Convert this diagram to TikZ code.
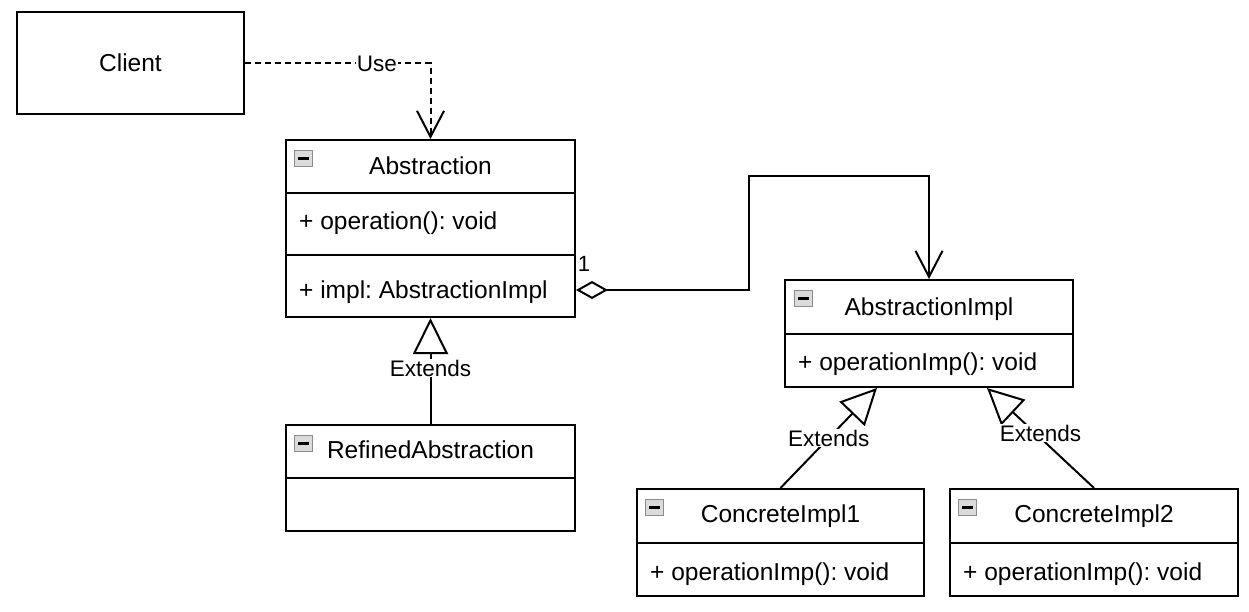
\documentclass[tikz,border=0pt]{standalone}
\usepackage{fontspec}
\setmainfont{Liberation Sans}
\usetikzlibrary{arrows.meta}
\frenchspacing
\begin{document}
\begin{tikzpicture}[x=1pt,y=-1pt,
  box/.style={draw=black, line width=2pt, fill=white, inner sep=0pt},
  ttl/.style={font=\fontsize{24.5}{29}\selectfont, text height=17.6pt, text depth=0pt, inner sep=0pt},
  mem/.style={ttl, anchor=west},
  lbl/.style={font=\fontsize{22.5}{27}\selectfont, fill=white, inner sep=1pt, text height=16.2pt, text depth=0pt},
  conn/.style={line width=2pt, draw=black},
  divider/.style={line width=2pt},
  usetip/.style={-{Straight Barb[length=26pt,width=27pt]}},
  exttip/.style={-{Triangle[open,length=36pt,width=35pt]}},
  minusicon/.pic={
    \draw[draw=black!45, fill=black!14, line width=1pt] (-9,-8) rectangle (9,8);
    \fill[black] (-5.5,-1.5) rectangle (5.5,1.5);
  }]
\useasboundingbox (0,0) rectangle (1249,611);
\fill[white] (0,0) rectangle (1249,611);

% Client
\node[box, ttl, draw, fill=white, line width=2pt, minimum width=227pt, minimum height=102pt] (client) at (130.5,63) {Client};

% Abstraction
\node[box, minimum width=289pt, minimum height=177pt] (abs) at (430.5,228.5) {};
\draw[divider] (abs.west |- 0,193) -- (abs.east |- 0,193);
\draw[divider] (abs.west |- 0,255) -- (abs.east |- 0,255);
\node[ttl] (abst) at (430.5,166) {Abstraction};
\node[mem] (absm1) at (299,221) {+ operation(): void};
\node[mem] (absm2) at (299,290) {+ impl: AbstractionImpl};
\pic at (303,158) {minusicon};

% RefinedAbstraction
\node[box, minimum width=289pt, minimum height=106pt] (refined) at (430.5,478) {};
\draw[divider] (refined.west |- 0,478) -- (refined.east |- 0,478);
\node[ttl] (refinedt) at (430.5,450) {RefinedAbstraction};
\pic at (303,443) {minusicon};

% AbstractionImpl
\node[box, minimum width=288pt, minimum height=107pt] (impl) at (929,333.5) {};
\draw[divider] (impl.west |- 0,334) -- (impl.east |- 0,334);
\node[ttl] (implt) at (929,307) {AbstractionImpl};
\node[mem] (implm) at (798,362) {+ operationImp(): void};
\pic at (803,298) {minusicon};

% ConcreteImpl1
\node[box, minimum width=287pt, minimum height=107pt] (c1) at (780.5,542.5) {};
\draw[divider] (c1.west |- 0,543) -- (c1.east |- 0,543);
\node[ttl] (c1t) at (780.5,514) {ConcreteImpl1};
\node[mem] (c1m) at (650,572) {+ operationImp(): void};
\pic at (654,507) {minusicon};

% ConcreteImpl2
\node[box, minimum width=288pt, minimum height=107pt] (c2) at (1094,542.5) {};
\draw[divider] (c2.west |- 0,543) -- (c2.east |- 0,543);
\node[ttl] (c2t) at (1094,514) {ConcreteImpl2};
\node[mem] (c2m) at (963,572) {+ operationImp(): void};
\pic at (967,507) {minusicon};

% Use dependency
\draw[conn, dash pattern=on 6pt off 4pt, usetip] (client.east) -| (abs.north);
\node[lbl] (uselbl) at (377,63) {Use};

% Aggregation
\coordinate (aggs) at (576,290);
\coordinate (bend1) at (749,290);
\draw[conn, {Diamond[open,length=32pt,width=18pt]}-{Straight Barb[length=26pt,width=27pt]}]
  (aggs) -- (bend1) |- ([yshift=103pt]impl.north) -- (impl.north);
\node[font=\fontsize{22}{26}\selectfont, inner sep=0pt, text height=15.8pt, text depth=0pt] (one) at (584,264) {1};

% Generalizations
\draw[conn, exttip] (refined.north) -- node[lbl, yshift=3pt] (ext0) {Extends} (abs.south);
\draw[conn, exttip] (c1.north) -- node[lbl] (ext1) {Extends} ([xshift=-52pt]impl.south);
\draw[conn, exttip] (c2.north) -- node[lbl, yshift=5pt] (ext2) {Extends} ([xshift=58pt]impl.south);
\end{tikzpicture}
\end{document}
